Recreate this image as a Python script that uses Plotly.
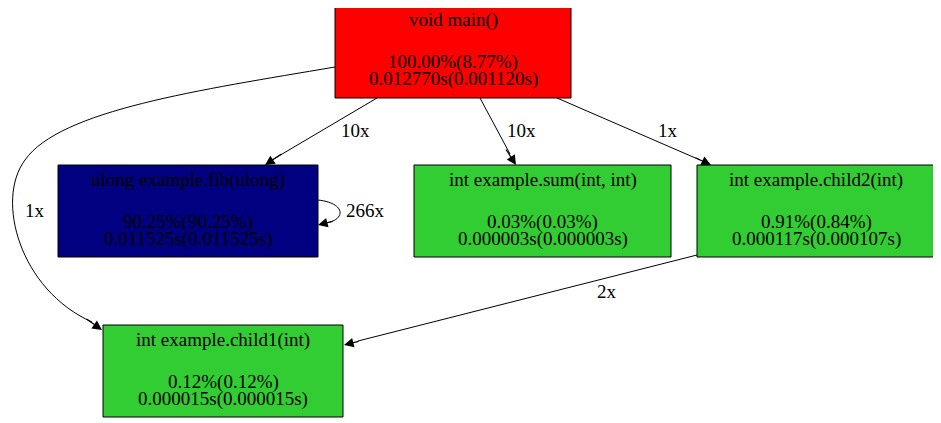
import plotly.graph_objects as go

# ---- data ----
node_names = ["void main()", "ulong example.fib(ulong)", "int example.sum(int, int)",
              "int example.child2(int)", "int example.child1(int)"]
node_pct = ["100.00%(8.77%)", "90.25%(90.25%)", "0.03%(0.03%)", "0.91%(0.84%)", "0.12%(0.12%)"]
node_time = ["0.012770s(0.001120s)", "0.011525s(0.011525s)", "0.000003s(0.000003s)",
             "0.000117s(0.000107s)", "0.000015s(0.000015s)"]
node_colors = ["#ff0000", "#000080", "#32cd32", "#32cd32", "#32cd32"]
edge_labels = ["10x", "10x", "1x", "1x", "2x", "266x"]

# ---- layout (pixel boxes: x0, y0, x1, y1) ----
boxes = [(335, 5, 571, 98), (58, 165, 318, 257), (414, 165, 671, 257),
         (697, 165, 935, 257), (103, 325, 343, 417)]
edges = [
    ("M377,98 L272,160", (283, 153), (265, 165), (355, 130)),
    ("M480,98 L510,154", (505, 148), (516, 165), (521, 130)),
    ("M557,98 L700,160", (694, 157), (711, 165), (668, 130)),
    ("M335,67 C200,90 60,110 25,160 C-5,200 20,290 92,322", (85, 318), (102, 330), (35, 210)),
    ("M697,255 L358,341", (360, 341), (344, 345), (607, 291)),
    ("M318,200 C345,203 345,218 330,222", (334, 221), (318, 225), (365, 210)),
]

font = dict(family="Liberation Serif, DejaVu Serif, serif", size=19, color="black")
fig = go.Figure()
shapes, annos = [], []
for (x0, y0, x1, y1), nm, p, t, c in zip(boxes, node_names, node_pct, node_time, node_colors):
    shapes.append(dict(type="rect", x0=x0, y0=y0, x1=x1, y1=y1, fillcolor=c,
                       line=dict(color="black", width=1), layer="below"))
    cx = (x0 + x1) / 2
    for i, txt in enumerate([nm, p, t]):
        yy = y0 + 15 + [0, 42, 59][i]
        annos.append(dict(x=cx, y=yy, text=txt, showarrow=False, font=font,
                          xanchor="center", yanchor="middle"))
for (path, frm, tip, lp), lab in zip(edges, edge_labels):
    shapes.append(dict(type="path", path=path, line=dict(color="black", width=1)))
    annos.append(dict(x=tip[0], y=tip[1], ax=frm[0], ay=frm[1], axref="x", ayref="y",
                      xref="x", yref="y", showarrow=True, arrowhead=2, arrowsize=1.6,
                      arrowwidth=1.2, arrowcolor="black", text="", standoff=0))
    annos.append(dict(x=lp[0], y=lp[1], text=lab, showarrow=False, font=font))

fig.add_trace(go.Scatter(x=[0, 941], y=[0, 423], mode="markers", marker=dict(opacity=0),
                         hoverinfo="skip", showlegend=False))
# ranges offset by 8px to compensate for the page's default body margin
fig.update_layout(width=941, height=423, margin=dict(l=0, r=0, t=0, b=0),
                  paper_bgcolor="white", plot_bgcolor="white", shapes=shapes, annotations=annos,
                  xaxis=dict(range=[8, 949], visible=False, fixedrange=True),
                  yaxis=dict(range=[431, 8], visible=False, fixedrange=True))
fig.write_html("out.html")
